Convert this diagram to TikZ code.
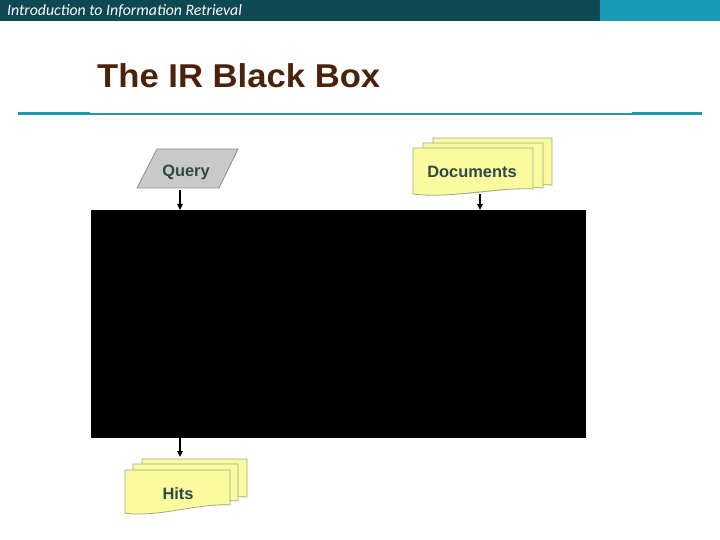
\documentclass[tikz,border=0pt]{standalone}
\usepackage{fontspec}
\setmainfont{Liberation Sans}
\newfontfamily\hdrfont{Carlito}
\usetikzlibrary{arrows.meta}
\definecolor{hdrdark}{HTML}{0E4852}
\definecolor{hdrlight}{HTML}{1A9CB8}
\definecolor{rulec}{HTML}{2196AF}
\definecolor{titlec}{HTML}{4A230A}
\definecolor{qfill}{HTML}{C9C9C9}
\definecolor{qline}{HTML}{8C8C8C}
\definecolor{dfill}{HTML}{FAFA9E}
\definecolor{dline}{HTML}{A3AA82}
\definecolor{lblc}{HTML}{2E4A48}
\newcommand\docpage[5]{% x0 y0 x1 ybottomleft ybottomright
  \draw[docline] (#1,#2) -- (#3,#2) -- (#3,#5)
    .. controls ({#1+0.7*(#3-#1)},{#5-2}) and ({#1+0.3*(#3-#1)},{#4+5}) .. (#1,#4) -- cycle;}
\begin{document}
\begin{tikzpicture}[x=1pt,y=-1pt,
  docline/.style={draw=dline, fill=dfill, line width=0.8pt},
  lbltext/.style={text=lblc, font=\bfseries\fontsize{16.4}{16}\selectfont, inner sep=0pt},
  arr/.style={-{Triangle[length=6pt,width=5.5pt]}, line width=1.3pt, black}]
\useasboundingbox (0,0) rectangle (720,540);
\fill[white] (0,0) rectangle (720,540);
% header
\fill[hdrdark] (0,0) rectangle (600,21);
\fill[hdrlight] (600,0) rectangle (720,21);
\node[anchor=west, text=white, inner sep=0pt, font=\hdrfont\itshape\fontsize{15.8}{15}\selectfont] (hdr) at (7,11) {Introduction to Information Retrieval};
% title
\node[anchor=base west, text=titlec, inner sep=0pt, xscale=1.05, font=\bfseries\fontsize{33}{33}\selectfont] (title) at (97,88) {The IR Black Box};
% rules
\draw[rulec, line width=1.8pt] (90,114) -- (632,114);
\draw[rulec, line width=3pt] (18,114) -- (90,114);
\draw[rulec, line width=3pt] (632,114) -- (702,114);
% query
\draw[draw=qline, fill=qfill, line width=0.8pt] (157,149) -- (238,149) -- (219,188) -- (137,188) -- cycle;
\node[lbltext, anchor=base] (query) at (186,177) {Query};
% documents
\docpage{433}{138}{552}{192}{185}
\docpage{423}{143}{543}{193}{188}
\docpage{413}{148}{533}{194}{189}
\node[lbltext, anchor=base] (docs) at (472,178) {Documents};
% hits
\docpage{142}{459}{247}{504}{497}
\docpage{133}{464}{238}{508}{501}
\docpage{125}{470}{230}{513}{505}
\node[lbltext, anchor=base] (hits) at (178,499) {Hits};
% black box
\node[fill=black, minimum width=495pt, minimum height=228pt, anchor=north west, inner sep=0pt] (bb) at (91,210) {};
% connectors
\coordinate (qa) at (180,190);
\coordinate (da) at (480,194);
\coordinate (ha) at (180,457);
\draw[arr] (qa) -- (qa |- bb.north);
\draw[arr] (da) -- (da |- bb.north);
\draw[arr] (ha |- bb.south) -- (ha);
\end{tikzpicture}
\end{document}
